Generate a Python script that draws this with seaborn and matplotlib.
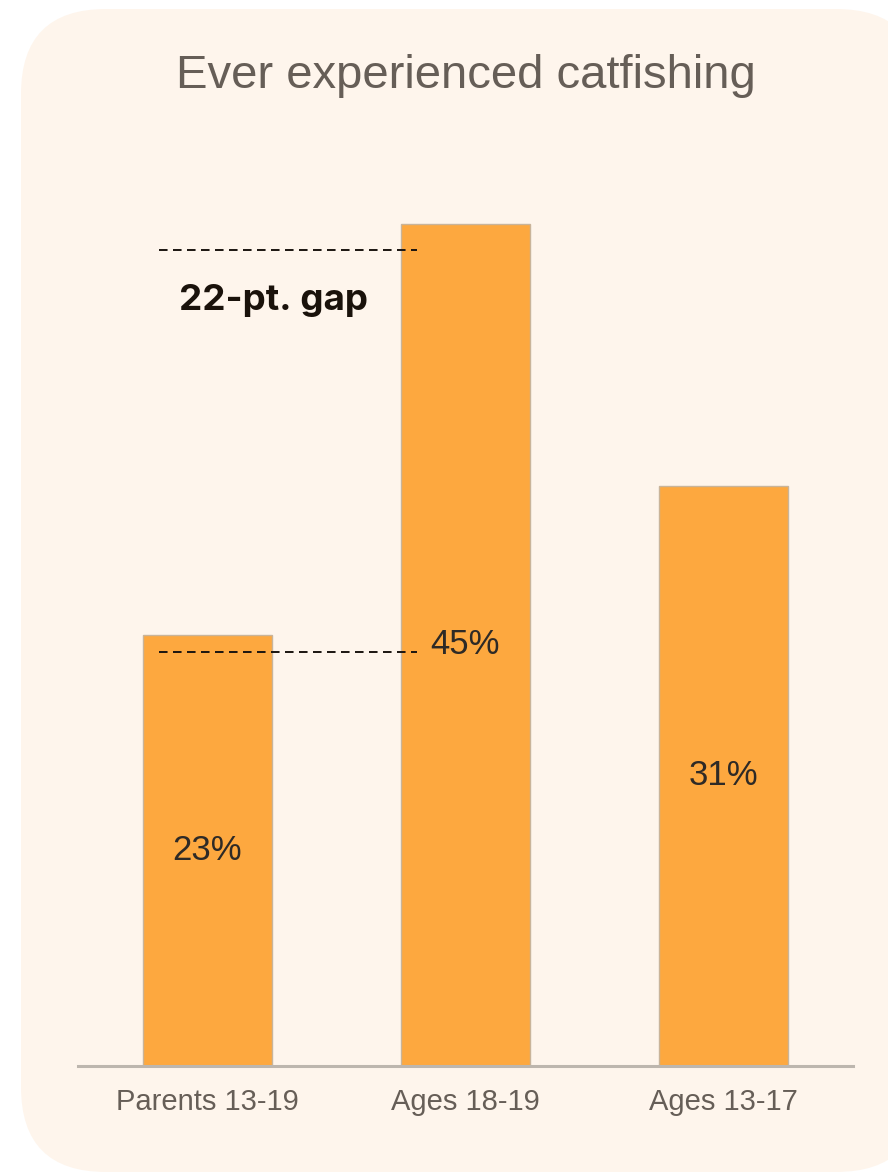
import matplotlib.pyplot as plt
import seaborn as sns
import pandas as pd
from matplotlib.patches import FancyBboxPatch
from matplotlib.transforms import IdentityTransform

categories = ["Parents 13-19", "Ages 18-19", "Ages 13-17"]
values = [23, 45, 31]
value_labels = ["23%", "45%", "31%"]
gap_levels = [43.6, 22.1]  # where the dashed gap markers sit
gap_label = "22-pt. gap"
title = "Ever experienced catfishing"

sns.set_theme(style="white")
plt.rcParams["font.family"] = ["Liberation Sans", "DejaVu Sans"]

bar_color = "#FDA83F"
grey_text = "#665E57"
panel_color = "#FEF5EC"

fig = plt.figure(figsize=(8.88, 11.75), dpi=100)
fig.patch.set_facecolor("white")

# rounded cream panel behind everything (pixel coords)
panel = FancyBboxPatch(
    (21, 3), 900, 1163,
    boxstyle="round,pad=0,rounding_size=85",
    facecolor=panel_color, edgecolor="none",
    transform=IdentityTransform(), zorder=0,
)
fig.add_artist(panel)

ax = fig.add_axes([0.0878, 0.0928, 0.8728, 0.7966])
ax.set_facecolor("none")

df = pd.DataFrame({"group": categories, "pct": values})
sns.barplot(
    data=df, x="group", y="pct", color=bar_color, saturation=1,
    width=0.5, edgecolor="#C9B49A", linewidth=1, ax=ax, zorder=2,
)

ax.set_xlim(-0.5, 2.5)
ax.set_ylim(0, 50)

for i, (v, lab) in enumerate(zip(values, value_labels)):
    ax.text(i, v / 2, lab, ha="center", va="center",
            fontsize=25, color="#2E2A26", zorder=4)

# dashed gap markers
for lvl in gap_levels:
    ax.plot([-0.186, 0.814], [lvl, lvl], color="#1A1410", lw=1.4,
            ls=(0, (4.4, 2.8)), zorder=5)

ax.text(-0.109, 40.9, gap_label, ha="left", va="center", fontsize=26.5,
        fontweight="bold", color="#1A120B", family=["Inter", "DejaVu Sans"],
        zorder=5)

ax.set_xlabel("")
ax.set_ylabel("")
ax.set_yticks([])
ax.tick_params(axis="x", length=0, pad=16, labelsize=21, labelcolor=grey_text)
for s in ["top", "right", "left"]:
    ax.spines[s].set_visible(False)
ax.spines["bottom"].set_color("#BDB6AE")
ax.spines["bottom"].set_linewidth(2.2)
ax.spines["bottom"].set_zorder(3)

fig.text(0.525, 1 - 76 / 1175, title, ha="center", va="center",
         fontsize=34, color=grey_text)

fig.savefig("out.png", dpi=100)
